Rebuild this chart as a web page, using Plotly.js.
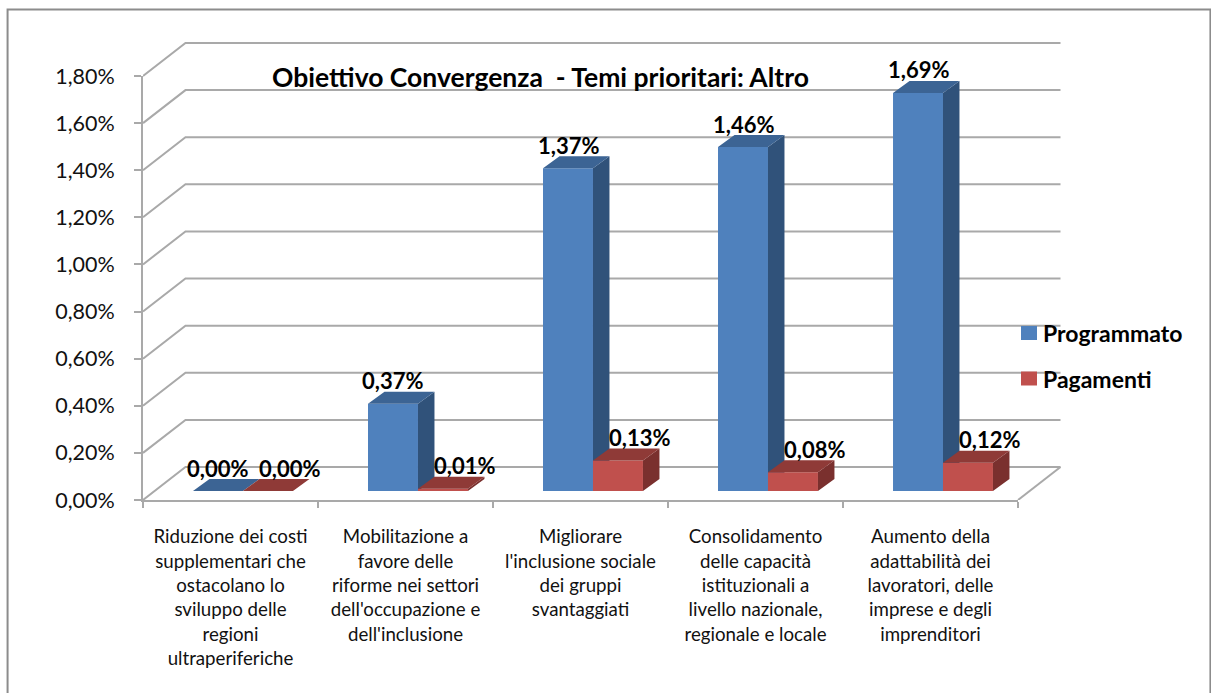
<!DOCTYPE html>
<html>
<head>
<meta charset="utf-8">
<script src="https://cdn.plot.ly/plotly-3.0.1.min.js"></script>
<style>html,body{margin:0;padding:0;background:#fff}#chart{width:1211px;height:693px}</style>
</head>
<body>
<div id="chart"></div>
<script>
const categories = [
  "Riduzione dei costi<br>supplementari che<br>ostacolano lo<br>sviluppo delle<br>regioni<br>ultraperiferiche",
  "Mobilitazione a<br>favore delle<br>riforme nei settori<br>dell'occupazione e<br>dell'inclusione",
  "Migliorare<br>l'inclusione sociale<br>dei gruppi<br>svantaggiati",
  "Consolidamento<br>delle capacità<br>istituzionali a<br>livello nazionale,<br>regionale e locale",
  "Aumento della<br>adattabilità dei<br>lavoratori, delle<br>imprese e degli<br>imprenditori"
];
const programmato = [0.00, 0.37, 1.37, 1.46, 1.69];
const pagamenti = [0.00, 0.01, 0.13, 0.08, 0.12];
const yTicks = [0, 0.2, 0.4, 0.6, 0.8, 1.0, 1.2, 1.4, 1.6, 1.8];
const seriesNames = ["Programmato", "Pagamenti"];
const chartTitle = "Obiettivo Convergenza  - Temi prioritari: Altro";

const FONT = "Lato, Carlito, Calibri, sans-serif";
const W = 1211, H = 693;
const mL = 142.5, mR = 147, mT = 40, mB = 193;  // plot area, walls included
const pw = W - mL - mR, ph = H - mT - mB;
const axisRight = 1018, axisTop = 76;           // front face of the chart box
const pxX = (axisRight - mL) / 5;               // pixels per category
const pxY = (H - mB - axisTop) / 1.8;           // pixels per 1%
const wallDu = 42.5 / pxX, wallDv = 33 / pxY;   // depth of the wall
const barDu = 16.5 / pxX, barDv = 12 / pxY;     // depth of a bar
const barBase = 9 / pxY;                        // bars stand inside the floor
const barW = 50 / pxX, barLeft = -0.2143;
const xs = categories.map((_, i) => i);
const gridCol = "#a9a9a9";
const colBlue = "#4f81bd", colRed = "#c0504d";

function faces(vals, left) {
  const side = {x: [], y: []}, top = {x: [], y: []};
  vals.forEach((v, i) => {
    const l = i + left, r = l + barW, b = barBase, t = b + v;
    side.x.push(r, r + barDu, r + barDu, r, r, null);
    side.y.push(b, b + barDv, t + barDv, t, b, null);
    top.x.push(l, l + barDu, r + barDu, r, l, null);
    top.y.push(t, t + barDv, t + barDv, t, t, null);
  });
  return {side, top};
}
function polyTrace(p, color, xa, ya) {
  return {type: "scatter", mode: "lines", x: p.x, y: p.y, xaxis: xa, yaxis: ya,
    fill: "toself", fillcolor: color, line: {width: 0, color: color},
    hoverinfo: "skip", showlegend: false};
}

// wall and floor lines, on a hidden subplot that covers the whole box
const gx = [], gy = [];
yTicks.forEach(v => {
  gx.push(-0.5, -0.5 + wallDu, 4.5 + wallDu, null);
  gy.push(v, v + wallDv, v + wallDv, null);
});
gx.push(4.5, 4.5 + wallDu, null);
gy.push(0, wallDv, null);
const gridTrace = {type: "scatter", mode: "lines", x: gx, y: gy, xaxis: "x", yaxis: "y",
  line: {color: gridCol, width: 2}, hoverinfo: "skip", showlegend: false};

const fb = faces(programmato, barLeft), fr = faces(pagamenti, barLeft + barW);
function barTrace(name, vals, left, color, xa, ya) {
  return {type: "bar", name: name, x: xs, y: vals, base: vals.map(() => barBase),
    offset: left, width: barW, xaxis: xa, yaxis: ya, showlegend: false,
    marker: {color: color, line: {width: 0}}, hoverinfo: "name+y"};
}
const traces = [
  gridTrace,
  barTrace(seriesNames[0], programmato, barLeft, colBlue, "x3", "y3"),
  polyTrace(fb.side, "#30527a", "x3", "y3"),
  polyTrace(fb.top, "#3c6494", "x3", "y3"),
  barTrace(seriesNames[1], pagamenti, barLeft + barW, colRed, "x4", "y4"),
  polyTrace(fr.side, "#7a302e", "x4", "y4"),
  polyTrace(fr.top, "#8f3a37", "x4", "y4")
];

const fmt = v => v.toFixed(2).replace(".", ",") + "%";
const labelFont = {family: FONT, size: 22, color: "#000"};
const anns = [];
xs.forEach(i => {
  anns.push({xref: "x2", yref: "y2", x: i + barLeft + barW / 2, y: barBase + programmato[i],
    yshift: 23, text: "<b>" + fmt(programmato[i]) + "</b>", showarrow: false,
    xanchor: "center", yanchor: "middle", font: labelFont});
  anns.push({xref: "x2", yref: "y2", x: i + barLeft + 1.5 * barW, y: barBase + pagamenti[i],
    xshift: 22, yshift: 23, text: "<b>" + fmt(pagamenti[i]) + "</b>", showarrow: false,
    xanchor: "center", yanchor: "middle", font: labelFont});
});

// paper helpers
const px = x => (x - mL) / pw, py = y => 1 - (y - mT) / ph;

// legend key
const legendRows = [{y: 333, c: colBlue}, {y: 378.5, c: colRed}];
const legendShapes = legendRows.map(r => ({type: "rect", xref: "paper", yref: "paper",
  x0: px(1021), x1: px(1037), y0: py(r.y - 7), y1: py(r.y + 7), fillcolor: r.c, line: {width: 0}}));
legendRows.forEach((r, i) => anns.push({xref: "paper", yref: "paper", x: px(1043), y: py(r.y),
  text: "<b>" + seriesNames[i] + "</b>", showarrow: false, xanchor: "left", yanchor: "middle",
  xshift: -2, font: {family: FONT, size: 23, color: "#000"}}));

const xr = [-0.5, 4.5], yr = [0, 1.8];
const dx = [0, (axisRight - mL) / pw], dy = [0, (H - mB - axisTop) / ph];
const hiddenOver = (over, range, anchor) => ({overlaying: over, range: range, visible: false, anchor: anchor, fixedrange: true});

const layout = {
  width: W, height: H, autosize: false,
  margin: {l: mL, r: mR, t: mT, b: mB, pad: 0},
  paper_bgcolor: "#fff", plot_bgcolor: "rgba(0,0,0,0)",
  separators: ",.",
  font: {family: FONT, color: "#000"},
  showlegend: false,
  title: {text: "<b>" + chartTitle + "</b>", x: 540.5 / W, y: 1 - 78 / H, xref: "container", yref: "container",
    xanchor: "center", yanchor: "middle", font: {family: FONT, size: 26.5, color: "#000"}},
  xaxis: {domain: [0, 1], range: [-0.5, -0.5 + pw / pxX], visible: false, fixedrange: true, anchor: "y"},
  yaxis: {domain: [0, 1], range: [0, ph / pxY], visible: false, fixedrange: true, anchor: "x"},
  xaxis2: {domain: dx, anchor: "y2", type: "linear", range: xr, tickmode: "array", tickvals: xs, ticktext: categories,
    ticks: "", ticklen: 0, ticklabelstandoff: 19, tickangle: 0, showgrid: false, zeroline: false,
    showline: true, linecolor: gridCol, linewidth: 2, fixedrange: true,
    tickfont: {family: FONT, size: 18.7, color: "#111"},
    minor: {tickmode: "array", tickvals: [-0.5, 0.5, 1.5, 2.5, 3.5, 4.5], ticks: "outside", ticklen: 6, tickcolor: gridCol, tickwidth: 2, showgrid: false}},
  yaxis2: {domain: dy, anchor: "x2", type: "linear", range: yr, tickmode: "array", tickvals: yTicks, ticktext: yTicks.map(fmt),
    ticks: "outside", ticklen: 7, tickcolor: gridCol, tickwidth: 2, ticklabelstandoff: 15, showgrid: false, zeroline: false,
    showline: true, linecolor: gridCol, linewidth: 2, fixedrange: true,
    tickfont: {family: FONT, size: 21.5, color: "#111"}},
  xaxis3: Object.assign(hiddenOver("x2", xr, "y3"), {domain: dx}),
  yaxis3: Object.assign(hiddenOver("y2", yr, "x3"), {domain: dy}),
  xaxis4: Object.assign(hiddenOver("x2", xr, "y4"), {domain: dx}),
  yaxis4: Object.assign(hiddenOver("y2", yr, "x4"), {domain: dy}),
  annotations: anns,
  shapes: [{type: "rect", xref: "paper", yref: "paper", layer: "below",
    x0: px(7), x1: px(1210.5), y0: py(720), y1: py(9.5),
    line: {color: "#8c8c8c", width: 2}, fillcolor: "rgba(0,0,0,0)"}].concat(legendShapes)
};
Plotly.newPlot("chart", traces, layout, {displayModeBar: false, responsive: false});
</script>
</body>
</html>
